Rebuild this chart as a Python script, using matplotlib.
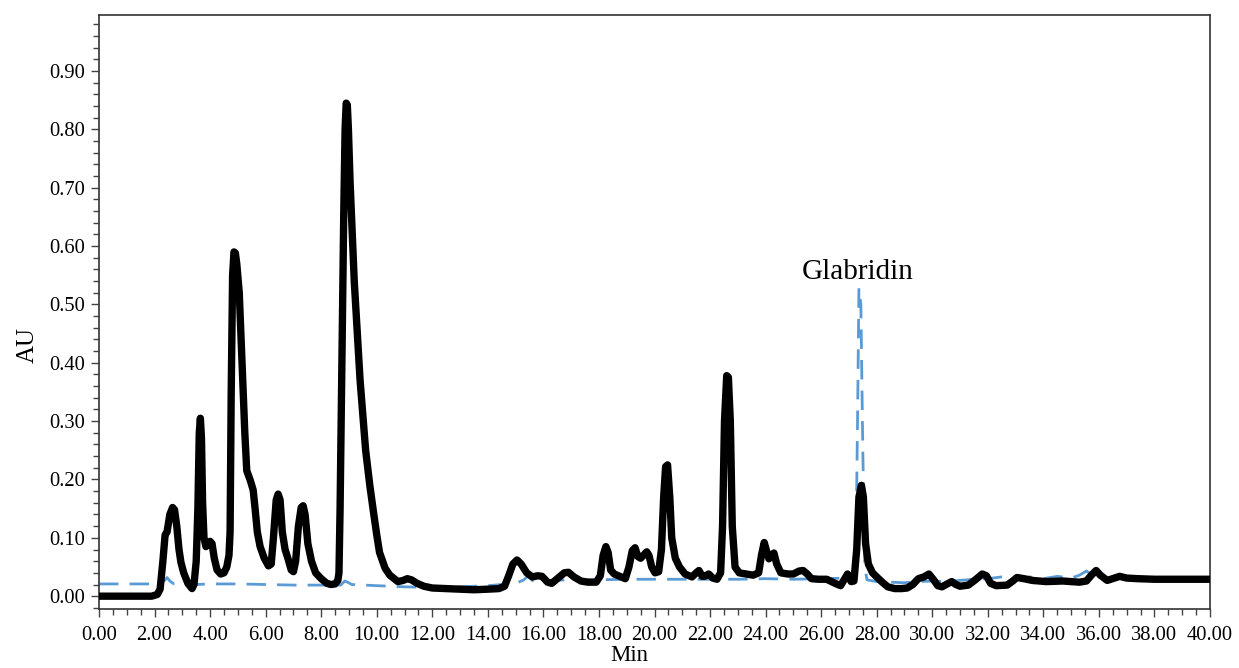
import numpy as np
import matplotlib
matplotlib.use("Agg")
import matplotlib.pyplot as plt
from matplotlib.ticker import MultipleLocator, FormatStrFormatter

# ============================================================================================================
# Chromatogram values (time in min, absorbance in AU)

sample_time = [
    0.0, 1.9, 2.1, 2.2, 2.3, 2.38, 2.45, 2.55, 2.65, 2.72, 2.8, 2.88, 2.95, 3.05, 3.2, 3.35,
    3.42, 3.5, 3.56, 3.61, 3.65, 3.69, 3.73, 3.78, 3.85, 3.92, 4.0, 4.07, 4.15, 4.25, 4.38, 4.5,
    4.6, 4.68, 4.72, 4.76, 4.81, 4.86, 4.91, 4.96, 5.05, 5.15, 5.25, 5.32, 5.45, 5.55, 5.62, 5.7,
    5.8, 5.95, 6.1, 6.2, 6.28, 6.38, 6.45, 6.52, 6.6, 6.7, 6.8, 6.92, 7.0, 7.08, 7.18, 7.28,
    7.35, 7.42, 7.52, 7.65, 7.8, 8.0, 8.2, 8.35, 8.5, 8.6, 8.64, 8.68, 8.72, 8.76, 8.81, 8.86,
    8.9, 8.94, 8.98, 9.04, 9.19, 9.4, 9.6, 9.75, 9.88, 10.0, 10.1, 10.3, 10.47, 10.76, 10.95, 11.1,
    11.25, 11.45, 11.7, 12.0, 12.5, 13.0, 13.5, 14.0, 14.4, 14.6, 14.75, 14.9, 15.05, 15.2, 15.4, 15.6,
    15.8, 15.95, 16.15, 16.3, 16.5, 16.75, 16.9, 17.1, 17.35, 17.6, 17.9, 18.05, 18.15, 18.25, 18.33, 18.42,
    18.55, 18.75, 18.95, 19.08, 19.2, 19.3, 19.4, 19.5, 19.6, 19.72, 19.8, 19.9, 20.02, 20.15, 20.25, 20.33,
    20.4, 20.47, 20.55, 20.62, 20.75, 20.9, 21.1, 21.35, 21.5, 21.6, 21.72, 21.8, 21.95, 22.1, 22.25, 22.38,
    22.45, 22.52, 22.6, 22.66, 22.73, 22.8, 22.9, 23.05, 23.3, 23.55, 23.75, 23.85, 23.95, 24.05, 24.12, 24.2,
    24.3, 24.4, 24.55, 24.8, 25.0, 25.2, 25.35, 25.5, 25.65, 25.9, 26.2, 26.5, 26.7, 26.85, 26.95, 27.08,
    27.18, 27.28, 27.36, 27.45, 27.52, 27.6, 27.7, 27.85, 28.0, 28.2, 28.4, 28.65, 28.9, 29.1, 29.3, 29.5,
    29.7, 29.88, 30.05, 30.2, 30.35, 30.5, 30.7, 30.85, 31.0, 31.3, 31.55, 31.8, 31.95, 32.1, 32.3, 32.7,
    32.9, 33.05, 33.3, 33.6, 34.1, 34.7, 35.3, 35.55, 35.75, 35.9, 36.05, 36.3, 36.55, 36.75, 37.0, 37.4,
    38.0, 39.0, 40.0,
]
sample_au = [
    0.0, 0.0, 0.003, 0.012, 0.06, 0.105, 0.11, 0.14, 0.152, 0.148, 0.12, 0.08, 0.058, 0.04, 0.022, 0.013,
    0.02, 0.06, 0.15, 0.28, 0.305, 0.27, 0.16, 0.1, 0.085, 0.088, 0.094, 0.09, 0.065, 0.045, 0.038, 0.04,
    0.05, 0.07, 0.11, 0.35, 0.55, 0.59, 0.588, 0.57, 0.52, 0.4, 0.28, 0.215, 0.198, 0.182, 0.15, 0.11,
    0.085, 0.065, 0.052, 0.055, 0.1, 0.165, 0.175, 0.165, 0.11, 0.08, 0.065, 0.045, 0.042, 0.06, 0.12, 0.152,
    0.155, 0.14, 0.09, 0.06, 0.04, 0.03, 0.022, 0.02, 0.021, 0.027, 0.04, 0.15, 0.3, 0.45, 0.65, 0.8,
    0.845, 0.842, 0.8, 0.71, 0.54, 0.37, 0.25, 0.19, 0.145, 0.105, 0.075, 0.048, 0.036, 0.025, 0.027, 0.03,
    0.028, 0.022, 0.017, 0.014, 0.013, 0.012, 0.011, 0.012, 0.013, 0.017, 0.035, 0.055, 0.062, 0.055, 0.04, 0.033,
    0.035, 0.034, 0.024, 0.022, 0.03, 0.04, 0.041, 0.033, 0.026, 0.024, 0.024, 0.035, 0.07, 0.085, 0.075, 0.045,
    0.038, 0.034, 0.03, 0.05, 0.078, 0.083, 0.068, 0.065, 0.07, 0.076, 0.07, 0.05, 0.04, 0.042, 0.08, 0.17,
    0.222, 0.225, 0.17, 0.1, 0.065, 0.05, 0.038, 0.033, 0.04, 0.044, 0.034, 0.034, 0.038, 0.031, 0.029, 0.04,
    0.12, 0.3, 0.378, 0.375, 0.3, 0.12, 0.05, 0.04, 0.038, 0.036, 0.04, 0.07, 0.092, 0.075, 0.064, 0.07,
    0.074, 0.055, 0.04, 0.038, 0.038, 0.043, 0.044, 0.038, 0.03, 0.029, 0.029, 0.022, 0.018, 0.03, 0.038, 0.025,
    0.026, 0.08, 0.17, 0.19, 0.17, 0.09, 0.055, 0.04, 0.033, 0.024, 0.016, 0.013, 0.013, 0.014, 0.02, 0.03,
    0.033, 0.038, 0.028, 0.018, 0.016, 0.02, 0.025, 0.02, 0.017, 0.019, 0.028, 0.038, 0.035, 0.022, 0.018, 0.019,
    0.026, 0.032, 0.03, 0.027, 0.025, 0.026, 0.024, 0.026, 0.037, 0.044, 0.036, 0.027, 0.031, 0.034, 0.031, 0.03,
    0.029, 0.029, 0.029,
]

# Glabridin standard (dashed blue trace)
standard_time = [
    0.0, 2.2, 2.38, 2.45, 2.55, 2.7, 3.0, 3.5, 4.0, 5.0, 6.0, 7.0, 8.0, 8.7, 8.85, 8.95,
    9.1, 10.0, 11.0, 12.0, 13.0, 14.0, 14.5, 15.0, 15.3, 15.45, 15.6, 16.0, 17.0, 18.0, 19.0, 20.0,
    21.0, 22.0, 23.0, 24.0, 25.0, 26.0, 27.0, 27.24, 27.31, 27.36, 27.43, 27.5, 27.57, 27.65, 28.0, 28.5,
    29.0, 29.5, 30.0, 30.5, 31.0, 31.5, 32.0, 32.5, 33.0, 33.5, 34.0, 34.5, 35.0, 35.3, 35.55, 35.8,
    36.5, 40.0,
]
standard_au = [
    0.021, 0.021, 0.028, 0.032, 0.026, 0.021, 0.019, 0.02, 0.021, 0.021, 0.02, 0.019, 0.019, 0.019, 0.026, 0.024,
    0.02, 0.018, 0.016, 0.015, 0.016, 0.018, 0.02, 0.022, 0.028, 0.035, 0.027, 0.027, 0.028, 0.028, 0.029, 0.029,
    0.029, 0.029, 0.029, 0.03, 0.029, 0.03, 0.031, 0.032, 0.3, 0.528, 0.5, 0.25, 0.05, 0.028, 0.025, 0.024,
    0.023, 0.025, 0.026, 0.025, 0.027, 0.029, 0.03, 0.033, 0.03, 0.033, 0.03, 0.034, 0.031, 0.036, 0.043, 0.035,
    0.03, 0.03,
]

label_text = "Glabridin"
label_pos = (27.3, 0.544)

# ============================================================================================================

plt.rcParams["font.family"] = ["Liberation Serif", "DejaVu Serif"]

fig = plt.figure(figsize=(12.39, 6.68), dpi=100)
ax = fig.add_axes([0.0799, 0.0883, 0.8967, 0.8892])

ax.plot(standard_time, standard_au, color="#5b9bd5", linewidth=2.0,
        linestyle=(0, (7, 4)), zorder=2)
ax.plot(sample_time, sample_au, color="black", linewidth=5.3,
        solid_joinstyle="round", solid_capstyle="round", zorder=3)

ax.text(label_pos[0], label_pos[1], label_text, ha="center", va="baseline", fontsize=21)

ax.set_xlim(0, 40)
ax.set_ylim(-0.022, 0.996)

ax.xaxis.set_major_locator(MultipleLocator(2))
ax.xaxis.set_minor_locator(MultipleLocator(0.5))
ax.xaxis.set_major_formatter(FormatStrFormatter("%.2f"))
ax.yaxis.set_minor_locator(MultipleLocator(0.02))
ax.yaxis.set_major_formatter(FormatStrFormatter("%.2f"))
ax.set_yticks([t / 10 for t in range(0, 10)])

ax.tick_params(axis="both", which="major", length=6, width=1, color="#444444",
               labelsize=14.8)
ax.tick_params(axis="y", which="major", pad=4)
ax.tick_params(axis="x", which="major", pad=6)
ax.tick_params(axis="both", which="minor", length=4, width=1, color="#444444")

for side in ax.spines.values():
    side.set_color("#333333")
    side.set_linewidth(1.2)

# axis titles sit off-centre in the original
ax.set_ylabel("AU", fontsize=18, va="center")
ax.yaxis.set_label_coords(-0.0640, 0.445)
ax.set_xlabel("Min", fontsize=16.5, va="bottom")
ax.xaxis.set_label_coords(19.1 / 40, -0.0955)

fig.savefig("out.png", dpi=100)
